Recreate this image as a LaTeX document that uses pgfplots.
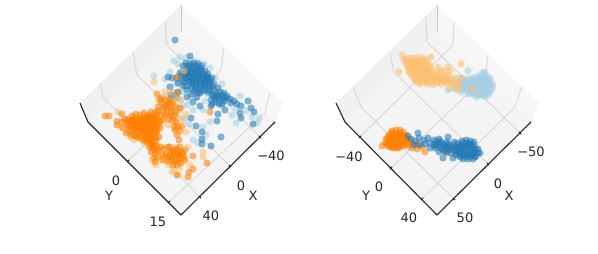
\documentclass[border=0pt]{standalone}
\usepackage{fontspec}
\setmainfont{DejaVu Sans}
\usepackage{pgfplots}
\pgfplotsset{compat=1.18}
\definecolor{bdark}{HTML}{1F78B4}
\definecolor{blight}{HTML}{A6CEE3}
\definecolor{odark}{HTML}{FF7F00}
\definecolor{olight}{HTML}{FDBF6F}
\definecolor{txt}{HTML}{262626}
\definecolor{gridc}{HTML}{D8D8D8}
\tikzset{lab/.style={font=\fontsize{13}{15}\selectfont,text=txt,inner sep=0pt}}
\pgfplotsset{
  panel/.style={scale only axis,width=299pt,height=254pt,ymin=0,ymax=254,y dir=reverse,
    axis lines=none,clip=false,unbounded coords=jump},
  pane/.style={fill=#1,draw=none,forget plot},
  gridl/.style={draw=gridc,line width=0.9pt,no marks,forget plot,line join=round},
  axl/.style={draw=txt,line width=1.1pt,no marks,forget plot,line join=round},
  pts/.style={only marks,mark=*,mark size=3.6pt,color=#1,mark options={draw=#1,draw opacity=0,fill=#1,fill opacity=0.55},forget plot},
}
\begin{document}
\begin{tikzpicture}
\path[use as bounding box] (0,0) rectangle (598pt,254pt);
% ---------- left panel
\begin{axis}[panel,xmin=0,xmax=299,at={(0pt,0pt)}]
\addplot[pane=black!6] coordinates {(88,122)(80,103)(181,5)(181,32)} --cycle;
\addplot[pane=black!3] coordinates {(275,122)(283,103)(181,5)(181,32)} --cycle;
\addplot[pane=black!4.5] coordinates {(181,215)(88,122)(181,32)(275,122)} --cycle;
\addplot[gridl] coordinates {(260,137)(167,45)(165,21)(nan,nan)(230,166)(137,75)(133,52)(nan,nan)(200,197)(103,97)(100,83)(nan,nan)(128,161)(221,70)(224,47)(nan,nan)(169,202)(265,113)(270,92)};
\addplot[draw=black!22,line width=0.6pt,no marks,forget plot] coordinates {(181,32)(181,5)};
\addplot[axl] coordinates {(80,103)(88,122)(181,215)(275,122)};
\addplot[axl] coordinates {(261,138)(259,136)(nan,nan)(231,167)(229,165)(nan,nan)(201,198)(199,196)(nan,nan)(127,162)(129,160)(nan,nan)(168,203)(170,201)};
% light blue
\addplot[pts=blight] coordinates {(154,76)(165,79)(174,61)(180,57)(186,58)(192,60)(198,62)(204,64)(210,68)(160,102)(167,95)(178,108)(183,106)(188,105)(193,110)(203,110)(232,115)(236,123)(259,118)(257,123)(193,140)(198,143)(178,118)(185,118)(172,92)(176,84)(180,100)(170,72)(181,72)(190,96)(196,98)(205,101)(214,98)(222,106)(228,100)(240,96)(236,108)(246,111)(252,117)(203,127)(206,135)(210,122)(218,100)(175,111)(189,124)(168,104)(183,92)(200,74)(215,78)(222,84)(186,66)(178,64)(208,94)(173,100)(197,90)};
% dark blue
\addplot[pts=bdark] coordinates {(175,40)(190,56)(183,66)(186,63)(190,64)(194,63)(198,64)(202,66)(185,70)(189,69)(193,68)(197,69)(201,70)(205,71)(208,74)(184,74)(188,73)(192,73)(196,74)(200,75)(204,76)(208,78)(212,78)(186,78)(190,78)(194,78)(198,79)(202,80)(206,81)(210,82)(214,84)(189,82)(193,83)(197,84)(201,85)(205,85)(209,86)(180,73)(177,78)(182,80)(186,86)(191,88)(196,89)(200,93)(205,90)(210,90)(214,90)(218,88)(212,95)(216,94)(220,92)(224,93)(211,100)(215,99)(219,98)(223,98)(227,96)(230,99)(234,101)(237,104)(241,106)(248,101)(240,113)(251,108)(254,112)(241,118)(253,124)(225,110)(218,114)(217,121)(211,106)(200,106)(193,102)(191,118)(196,126)(202,132)(202,139)(202,144)(211,146)(221,137)(168,77)(172,78)(170,87)(171,95)(177,98)(178,92)(187,90)(192,94)(183,86)(187,97)(197,97)(224,101)(219,104)(178,83)(212,104)
(188,66)(192,66)(196,66)(200,68)(187,72)(191,71)(195,71)(199,72)(203,73)(207,76)(186,75)(190,76)(194,76)(198,76)(202,78)(206,78)(210,80)(188,80)(192,81)(196,81)(200,82)(204,83)(208,84)(212,86)(192,85)(196,86)(200,87)(204,87)(194,91)(198,92)(202,91)(208,92)(214,96)(218,96)(222,95)(226,98)(231,103)(216,102)(222,104)(181,76)(184,82)};
% light orange
\addplot[pts=olight] coordinates {(118,112)(125,119)(130,137)(121,127)(186,132)(188,147)(168,165)(165,157)(177,125)(180,110)(172,111)(158,100)(173,102)(154,82)(184,71)(203,152)(138,137)(134,140)(127,130)(144,143)(152,160)(156,165)(160,160)(174,170)(180,168)(190,165)(170,162)(182,119)(186,114)(168,125)(165,118)(176,116)(181,100)(170,92)(165,92)(178,99)(203,157)(172,172)(178,175)(150,145)};
% dark orange
\addplot[pts=odark] coordinates {(105,116)(109,116)(117,121)(117,125)(122,114)(177,175)(188,177)(193,169)(189,172)(155,162)(193,156)(207,163)(157,94)(162,98)(128,119)(131,122)(134,118)(127,124)(130,127)(133,125)(136,122)(139,119)(137,127)(140,124)(143,121)(146,118)(141,129)(144,126)(147,123)(150,120)(153,117)(145,131)(148,128)(151,125)(154,122)(157,119)(149,134)(152,131)(155,128)(158,125)(135,130)(138,133)(142,135)(146,137)(150,139)(154,136)(157,132)(160,128)(148,115)(151,112)(155,113)(158,111)(161,115)(144,113)(140,115)(136,114)(132,116)(125,120)(129,131)(133,134)(137,137)(143,140)(147,142)(152,143)(156,141)(159,137)(149,147)(153,148)(157,146)(151,152)(155,154)(159,151)(161,147)(154,158)(158,157)(163,155)(158,107)(162,103)(166,100)(170,99)(164,108)(168,105)(172,103)(175,106)(160,99)(167,113)(171,112)(174,116)(169,119)(163,120)(176,122)(178,127)(180,131)(174,127)(177,135)(179,140)(182,126)(176,112)(180,108)(164,149)(168,147)(172,150)(176,148)(180,147)(166,154)(170,156)(174,154)(178,153)(182,152)(185,150)(168,161)(172,160)(176,159)(180,158)(184,157)(173,165)(177,165)(181,163)(185,160)(170,147)(163,160)(177,77)(210,112)(177,93)
(130,121)(133,120)(136,119)(129,125)(132,124)(135,124)(138,122)(141,120)(144,119)(148,118)(151,118)(132,128)(135,127)(138,126)(141,125)(144,123)(148,121)(152,120)(155,119)(137,130)(140,129)(143,128)(146,126)(149,125)(153,123)(156,122)(159,121)(141,132)(144,131)(147,130)(150,129)(153,128)(156,126)(145,134)(148,133)(151,132)(154,131)(157,129)(146,140)(149,137)(152,136)(155,134)(150,142)(153,141)(156,138)(152,146)(155,146)(154,150)(157,150)(147,125)(150,116)(154,116)(157,115)(145,117)(141,118)(162,110)(165,105)(169,102)(167,108)(171,108)(165,115)(171,116)(160,122)(173,121)(175,130)(170,152)(174,151)(178,150)(172,157)(176,156)(180,155)(168,157)(175,162)(179,161)(183,154)(122,122)(123,128)(126,133)(131,135)(135,136)(140,138)};
\node[lab] at (axis cs:271,156) {−40};
\node[lab] at (axis cs:241,186) {0};
\node[lab] at (axis cs:211,216) {40};
\node[lab] at (axis cs:253,196) {X};
\node[lab] at (axis cs:109,196) {Y};
\node[lab] at (axis cs:116,181) {0};
\node[lab] at (axis cs:158,222) {15};
\end{axis}
% ---------- right panel
\begin{axis}[panel,xmin=299,xmax=598,at={(299pt,0pt)}]
\addplot[pane=black!6] coordinates {(345,122)(336,103)(437,5)(437,32)} --cycle;
\addplot[pane=black!3] coordinates {(531,122)(539,103)(437,5)(437,32)} --cycle;
\addplot[pane=black!4.5] coordinates {(437,215)(345,122)(437,32)(531,122)} --cycle;
\addplot[gridl] coordinates {(520,133)(427,42)(426,17)(nan,nan)(488,164)(394,72)(390,52)(nan,nan)(454,199)(361,107)(353,87)(nan,nan)(360,137)(453,45)(454,22)(nan,nan)(391,168)(485,77)(488,55)(nan,nan)(422,199)(515,107)(522,87)};
\addplot[draw=black!22,line width=0.6pt,no marks,forget plot] coordinates {(437,32)(437,5)};
\addplot[axl] coordinates {(336,103)(345,122)(437,215)(531,122)};
\addplot[axl] coordinates {(521,134)(519,132)(nan,nan)(489,165)(487,163)(nan,nan)(455,200)(453,198)(nan,nan)(359,138)(361,136)(nan,nan)(390,169)(392,167)(nan,nan)(421,200)(423,198)};
% light blue
\addplot[pts=blight] coordinates {(468,71)(460,78)(448,90)(453,88)(456,89)(482,73)(485,72)(463,80)(467,79)(471,78)(475,77)(479,76)(483,76)(487,76)(490,78)(463,84)(467,83)(471,82)(475,81)(479,80)(483,80)(487,81)(491,82)(493,85)(462,88)(466,87)(470,86)(474,85)(478,85)(482,84)(486,85)(490,86)(492,89)(466,91)(470,90)(474,90)(478,90)(482,89)(486,90)(490,91)(470,94)(474,94)(478,94)(482,94)(486,94)(489,94)(476,97)(481,96)(486,97)(459,84)(456,81)(461,92)
(465,82)(469,81)(473,80)(477,79)(481,78)(485,78)(489,80)(464,86)(468,85)(472,84)(476,83)(480,82)(484,82)(488,83)(464,90)(468,89)(472,88)(476,87)(480,87)(484,87)(488,88)(468,93)(472,92)(476,92)(480,92)(484,92)(488,92)(478,95)(483,95)};
% light orange
\addplot[pts=olight] coordinates {(402,55)(399,72)(431,57)(461,64)(448,67)(438,67)(473,89)(420,84)(458,90)(404,60)(408,58)(413,58)(418,57)(423,58)(427,60)(406,64)(410,63)(414,62)(418,62)(422,63)(426,64)(430,65)(408,68)(412,67)(416,67)(420,67)(424,68)(428,69)(432,70)(409,72)(413,71)(417,71)(421,72)(425,72)(429,73)(433,74)(437,72)(441,71)(412,76)(416,75)(420,76)(424,76)(428,77)(432,78)(436,77)(440,76)(444,76)(448,75)(415,80)(419,80)(423,80)(427,81)(431,82)(435,81)(439,80)(443,80)(447,79)(451,79)(455,78)(427,84)(433,85)(441,84)(446,83)(450,83)(454,82)(458,83)(462,78)(444,71)(450,71)(455,85)(459,87)(450,88)
(406,60)(411,60)(416,60)(420,60)(425,61)(408,66)(412,65)(416,65)(420,65)(424,66)(428,67)(410,70)(414,69)(418,69)(422,70)(426,70)(430,71)(411,74)(415,73)(419,73)(423,74)(427,75)(431,76)(435,75)(414,78)(418,78)(422,78)(426,79)(430,80)(434,79)(438,78)(442,78)(446,78)(417,82)(424,82)(437,83)(441,81)(445,81)(449,81)};
% dark orange
\addplot[pts=odark] coordinates {(382,146)(425,152)(417,149)(412,148)(447,153)(389,135)(392,131)(396,130)(400,130)(403,132)(386,139)(390,137)(394,136)(398,136)(402,136)(406,135)(409,139)(385,143)(389,142)(393,141)(397,141)(401,141)(405,141)(409,143)(413,144)(388,146)(392,146)(396,146)(400,146)(404,145)(408,146)(393,148)(399,148)(418,144)(422,147)
(391,133)(394,133)(398,133)(401,134)(388,137)(392,135)(396,135)(400,135)(404,136)(388,140)(392,139)(396,139)(400,139)(404,139)(408,141)(387,144)(391,143)(395,143)(399,143)(403,143)(407,144)(390,147)(394,147)(398,146)(402,146)(396,148)};
% dark blue
\addplot[pts=bdark] coordinates {(418,133)(408,136)(448,137)(443,158)(453,158)(480,153)(411,139)(415,141)(419,138)(424,140)(428,138)(434,140)(439,139)(414,145)(420,145)(425,144)(430,143)(434,145)(438,144)(442,143)(447,142)(430,148)(435,148)(440,147)(445,146)(450,146)(439,152)(444,151)(449,150)(454,150)(454,145)(458,143)(462,141)(466,140)(470,141)(474,142)(458,147)(462,146)(466,145)(470,145)(474,146)(478,149)(458,151)(462,150)(466,150)(470,150)(474,151)(478,153)(456,155)(460,155)(464,155)(468,155)(472,155)(476,156)(463,159)(468,159)(473,159)(454,142)
(436,142)(440,141)(444,145)(448,144)(436,146)(442,149)(447,148)(452,148)(456,148)(446,152)(451,153)(456,152)(460,145)(464,143)(468,143)(472,144)(460,149)(464,148)(468,148)(472,148)(476,149)(458,153)(462,153)(466,153)(470,153)(474,153)(460,157)(465,157)(470,157)(475,157)};
\node[lab] at (axis cs:531,152) {−50};
\node[lab] at (axis cs:498,184) {0};
\node[lab] at (axis cs:465,218) {50};
\node[lab] at (axis cs:509,196) {X};
\node[lab] at (axis cs:366,196) {Y};
\node[lab] at (axis cs:349,157) {−40};
\node[lab] at (axis cs:379,187) {0};
\node[lab] at (axis cs:409,218) {40};
\end{axis}
\end{tikzpicture}
\end{document}
